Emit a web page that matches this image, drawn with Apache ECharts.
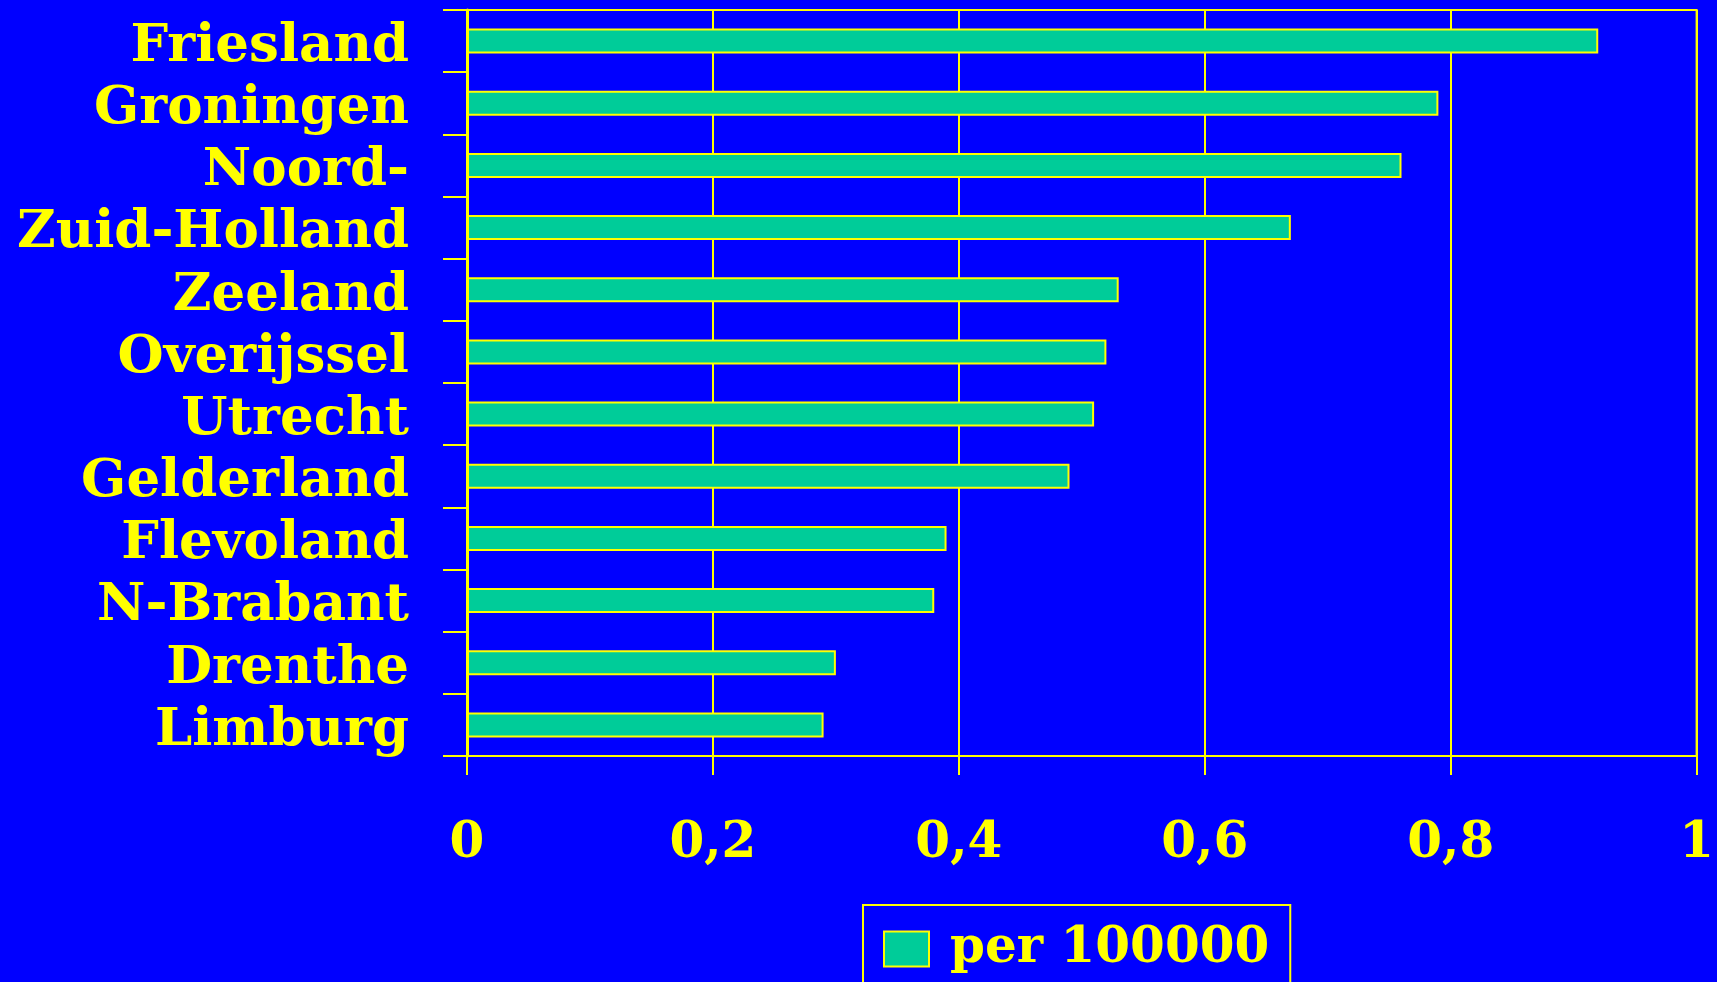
<!DOCTYPE html>
<html>
<head>
<meta charset="utf-8">
<script src="https://cdn.jsdelivr.net/npm/echarts@6/dist/echarts.min.js"></script>
<style>
html,body{margin:0;padding:0;background:#0000FF;}
#chart{width:1717px;height:982px;}
</style>
</head>
<body>
<div id="chart"></div>
<script>
const provinces = ['Friesland','Groningen','Noord-','Zuid-Holland','Zeeland','Overijssel','Utrecht','Gelderland','Flevoland','N-Brabant','Drenthe','Limburg'];
const perHundredThousand = [0.92,0.79,0.76,0.67,0.53,0.52,0.51,0.49,0.39,0.38,0.30,0.29];
const seriesName = 'per 100000';
const xTicks = {min:0, max:1, interval:0.2};

const yellow = '#FFFF00';
const fontFam = '"DejaVu Serif", "Liberation Serif", serif';
const chart = echarts.init(document.getElementById('chart'));
chart.setOption({
  backgroundColor:'#0000FF',
  animation:false,
  grid:{left:467,right:20,top:10,bottom:226,show:true,borderColor:yellow,borderWidth:2,backgroundColor:'transparent'},
  legend:{
    left:863, top:905,
    data:[{name:seriesName,icon:'rect'}],
    borderColor:yellow, borderWidth:2,
    padding:[19,21,19,20],
    itemWidth:45, itemHeight:35,
    textStyle:{color:yellow,fontFamily:fontFam,fontWeight:'bold',fontSize:50,lineHeight:50,padding:[0,0,0,16]}
  },
  xAxis:{
    type:'value', min:xTicks.min, max:xTicks.max, interval:xTicks.interval,
    axisLine:{show:true,lineStyle:{color:yellow,width:2}},
    axisTick:{show:true,length:19,lineStyle:{color:yellow,width:2}},
    splitLine:{show:true,lineStyle:{color:yellow,width:2}},
    axisLabel:{color:yellow,fontFamily:fontFam,fontWeight:'bold',fontSize:50,margin:63,
      formatter:v=>String(Math.round(v*10)/10).replace('.',',')}
  },
  yAxis:{
    type:'category', data:provinces, inverse:true,
    axisLine:{show:true,lineStyle:{color:yellow,width:3}},
    axisTick:{show:true,interval:0,length:24,lineStyle:{color:yellow,width:2}},
    splitLine:{show:false},
    axisLabel:{interval:0,color:yellow,fontFamily:fontFam,fontWeight:'bold',fontSize:53,margin:58,
      formatter:v=>'{s|' + v + '}',
      rich:{s:{color:yellow,fontFamily:fontFam,fontWeight:'bold',fontSize:53,lineHeight:53,padding:[12,0,0,0]}}}
  },
  series:[{
    name:seriesName, type:'bar', data:perHundredThousand,
    barWidth:25,
    itemStyle:{color:'#00CC99',borderColor:yellow,borderWidth:2}
  }]
});
</script>
</body>
</html>
